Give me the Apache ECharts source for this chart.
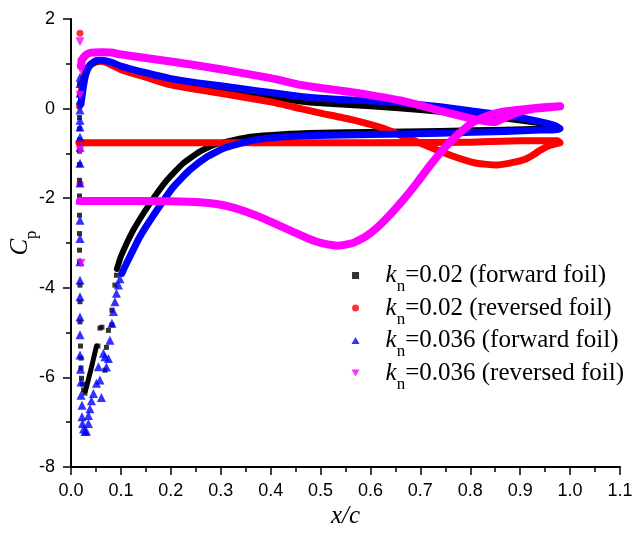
<!DOCTYPE html>
<html><head><meta charset="utf-8">
<script src="https://cdn.jsdelivr.net/npm/echarts@6/dist/echarts.min.js"></script>
<style>html,body{margin:0;padding:0;background:#fff}#c{width:636px;height:538px}</style>
</head><body><div id="c"></div>
<script>
// ---- data (x/c, Cp) ----
const seriesNames = ['kn=0.02 (forward foil)', 'kn=0.02 (reversed foil)', 'kn=0.036 (forward foil)', 'kn=0.036 (reversed foil)'];
const xTickDigits = 1;

// kn=0.02 forward foil (black squares)
const fwd02Surface = [[0.02,0.2],[0.026,0.6],[0.032,0.85],[0.04,0.97],[0.05,1.03],[0.06,1.05],[0.08,1.0],[0.1,0.88],[0.15,0.7],[0.2,0.56],[0.25,0.46],[0.3,0.39],[0.35,0.32],[0.4,0.25],[0.46,0.16],[0.5,0.12],[0.6,0.05],[0.7,-0.03],[0.8,-0.14],[0.87,-0.22],[0.94,-0.33],[0.98,-0.42],[0.94,-0.45],[0.87,-0.47],[0.74,-0.5],[0.6,-0.52],[0.5,-0.54],[0.425,-0.57],[0.359,-0.63],[0.292,-0.79],[0.258,-0.96],[0.225,-1.22],[0.192,-1.6],[0.158,-2.12],[0.125,-2.71],[0.1,-3.3],[0.092,-3.58]];
const fwd02Arm = [[0.029,-6.3],[0.04,-5.82],[0.051,-5.3]];
const fwd02Points = [[0.017,0.55],[0.017,0.3],[0.017,0.05],[0.017,-0.2],[0.017,-0.45],[0.017,-0.7],[0.017,-0.95],[0.017,-1.25],[0.017,-1.6],[0.017,-1.95],[0.017,-2.38],[0.017,-2.79],[0.017,-3.16],[0.017,-3.42],[0.018,-3.94],[0.018,-4.31],[0.018,-4.76],[0.019,-5.3],[0.02,-5.57],[0.02,-5.79],[0.021,-6.02],[0.023,-6.15],[0.025,-6.28],[0.028,-6.35],[0.054,-5.3],[0.058,-4.9],[0.062,-4.88],[0.075,-4.95],[0.071,-5.33],[0.068,-5.84],[0.082,-4.83],[0.082,-4.5],[0.088,-3.94],[0.091,-3.72]];

// kn=0.02 reversed foil (red circles)
const rev02Surface = [[0.02,0.35],[0.025,0.65],[0.03,0.85],[0.04,1.0],[0.05,1.06],[0.06,1.06],[0.08,0.98],[0.1,0.87],[0.15,0.7],[0.2,0.53],[0.25,0.43],[0.3,0.34],[0.4,0.15],[0.46,0.0],[0.5,-0.1],[0.56,-0.24],[0.626,-0.44],[0.693,-0.74],[0.76,-1.04],[0.813,-1.22],[0.853,-1.26],[0.886,-1.2],[0.91,-1.13],[0.925,-1.04],[0.94,-0.93],[0.955,-0.84],[0.97,-0.79],[0.98,-0.76],[0.975,-0.72],[0.95,-0.72],[0.9,-0.72],[0.8,-0.75],[0.6,-0.76],[0.4,-0.76],[0.2,-0.76],[0.05,-0.76],[0.016,-0.76]];
const rev02Points = [[0.018,1.68],[0.02,1.08],[0.017,0.05],[0.018,-1.67]];

// kn=0.036 forward foil (blue triangles)
const fwd036Surface = [[0.02,0.1],[0.025,0.5],[0.03,0.78],[0.038,0.97],[0.05,1.07],[0.06,1.08],[0.08,1.04],[0.1,0.95],[0.15,0.8],[0.2,0.67],[0.25,0.58],[0.3,0.51],[0.35,0.43],[0.4,0.36],[0.46,0.27],[0.5,0.23],[0.6,0.17],[0.66,0.13],[0.74,0.04],[0.8,-0.05],[0.87,-0.15],[0.94,-0.29],[0.97,-0.38],[0.98,-0.45],[0.97,-0.47],[0.94,-0.48],[0.87,-0.51],[0.74,-0.55],[0.6,-0.58],[0.492,-0.6],[0.425,-0.63],[0.359,-0.72],[0.305,-0.89],[0.272,-1.08],[0.238,-1.37],[0.205,-1.75],[0.172,-2.27],[0.138,-2.86],[0.108,-3.53],[0.102,-3.68]];
const fwd036Points = [[0.018,0.7],[0.018,0.56],[0.018,0.35],[0.018,0.19],[0.018,-0.03],[0.018,-0.26],[0.018,-0.41],[0.018,-0.64],[0.018,-0.86],[0.018,-1.22],[0.018,-1.66],[0.018,-2.04],[0.018,-2.49],[0.018,-2.9],[0.018,-3.42],[0.018,-3.83],[0.018,-4.2],[0.018,-4.65],[0.018,-5.05],[0.018,-5.5],[0.019,-5.82],[0.02,-6.1],[0.02,-6.4],[0.022,-6.62],[0.022,-6.88],[0.023,-7.03],[0.025,-7.15],[0.028,-7.21],[0.031,-7.2],[0.035,-7.03],[0.035,-6.85],[0.038,-6.7],[0.041,-6.52],[0.045,-6.36],[0.051,-6.13],[0.055,-5.76],[0.058,-6.06],[0.061,-6.45],[0.065,-5.46],[0.068,-5.54],[0.071,-5.77],[0.075,-5.58],[0.078,-5.17],[0.082,-4.79],[0.085,-4.53],[0.088,-4.31],[0.091,-4.12],[0.095,-3.94],[0.098,-3.8]];

// kn=0.036 reversed foil (magenta inverted triangles)
const rev036Surface = [[0.02,0.95],[0.022,1.08],[0.03,1.2],[0.04,1.25],[0.06,1.26],[0.08,1.25],[0.1,1.21],[0.15,1.13],[0.2,1.05],[0.3,0.88],[0.4,0.68],[0.46,0.53],[0.5,0.46],[0.56,0.37],[0.6,0.3],[0.66,0.18],[0.7,0.07],[0.74,-0.05],[0.78,-0.16],[0.82,-0.26],[0.85,-0.3],[0.87,-0.2],[0.9,-0.07],[0.93,0.0],[0.96,0.03],[0.98,0.05],[0.96,0.04],[0.927,0.01],[0.873,-0.06],[0.84,-0.14],[0.806,-0.3],[0.773,-0.6],[0.745,-0.92],[0.72,-1.26],[0.695,-1.63],[0.67,-1.98],[0.645,-2.3],[0.615,-2.64],[0.59,-2.86],[0.565,-3.0],[0.535,-3.06],[0.505,-3.01],[0.475,-2.9],[0.445,-2.75],[0.415,-2.6],[0.385,-2.45],[0.355,-2.32],[0.325,-2.21],[0.292,-2.13],[0.258,-2.09],[0.2,-2.07],[0.1,-2.06],[0.018,-2.06]];
const rev036Points = [[0.018,1.49],[0.02,0.86],[0.018,0.3],[0.018,-0.93],[0.02,-3.45]];

// ---- chart ----
const SERIF = 'Liberation Serif';
const SANS = 'Liberation Sans';
const colors = ['#000000', '#ff0000', '#0000ff', '#ff00ff'];

function band(name, data, color, width, z) {
  return { type: 'line', name, data, z, symbol: 'none', showSymbol: false, smooth: 0.15,
    silent: true, animation: false, emphasis: { disabled: true },
    lineStyle: { color, width, cap: 'round', join: 'round' }, itemStyle: { color } };
}
function pts(name, data, color, symbol, size, rotate, z) {
  return { type: 'scatter', name, data, z, symbol, symbolSize: size, symbolRotate: rotate,
    silent: true, animation: false, emphasis: { disabled: true }, itemStyle: { color } };
}

const chart = echarts.init(document.getElementById('c'), null, { renderer: 'canvas' });
chart.setOption({
  backgroundColor: '#ffffff',
  animation: false,
  grid: { left: 71, right: 16, top: 19, bottom: 71, containLabel: false, outerBoundsMode: 'none' },
  xAxis: {
    type: 'value', min: 0, max: 1.1, interval: 0.1,
    name: '{x|x/c}', nameLocation: 'middle', nameGap: 37, nameMoveOverlap: false,
    nameTextStyle: { rich: { x: { fontFamily: SERIF, fontStyle: 'italic', fontSize: 25, color: '#000' } } },
    axisLine: { show: true, onZero: false, lineStyle: { color: '#000', width: 2 } },
    axisTick: { show: true, inside: false, length: 8, lineStyle: { color: '#000', width: 1.5 } },
    minorTick: { show: true, splitNumber: 2, length: 5, lineStyle: { color: '#000', width: 1.5 } },
    splitLine: { show: false },
    axisLabel: { margin: 15, fontFamily: SANS, fontSize: 18, color: '#000',
      formatter: v => v.toFixed(xTickDigits), hideOverlap: false }
  },
  yAxis: {
    type: 'value', min: -8, max: 2, interval: 2,
    name: '{c|C}{p|p}', nameLocation: 'middle', nameGap: 31, nameRotate: 90, nameMoveOverlap: false,
    nameTextStyle: { rich: {
      c: { fontFamily: SERIF, fontStyle: 'italic', fontSize: 25, color: '#000' },
      p: { fontFamily: SERIF, fontSize: 17, color: '#000', padding: [23, 0, 0, 0] }
    } },
    axisLine: { show: true, onZero: false, lineStyle: { color: '#000', width: 2 } },
    axisTick: { show: true, inside: false, length: 8, lineStyle: { color: '#000', width: 1.5 } },
    minorTick: { show: true, splitNumber: 2, length: 5, lineStyle: { color: '#000', width: 1.5 } },
    splitLine: { show: false },
    axisLabel: { margin: 16, fontFamily: SANS, fontSize: 18, color: '#000', hideOverlap: false }
  },
  legend: {
    orient: 'vertical', left: 351.5, top: 263, padding: 0,
    itemWidth: 50, itemHeight: 7, itemGap: 0, selectedMode: false, symbolKeepAspect: true,
    data: [
      { name: seriesNames[0], icon: 'path://M0,0L10,0L10,10L0,10Z', itemStyle: { color: colors[0] } },
      { name: seriesNames[1], icon: 'circle', itemStyle: { color: colors[1] } },
      { name: seriesNames[2], icon: 'path://M5,0L10,8.66L0,8.66Z', itemStyle: { color: colors[2] } },
      { name: seriesNames[3], icon: 'path://M0,0L10,0L5,8.66Z', itemStyle: { color: colors[3] } }
    ],
    formatter: n => '{k|k}{n|n}{t|' + n.replace('kn', '') + '}',
    textStyle: { rich: {
      k: { fontFamily: SERIF, fontStyle: 'italic', fontSize: 25, color: '#000' },
      n: { fontFamily: SERIF, fontSize: 17, color: '#000', padding: [23, 0, 0, 0] },
      t: { fontFamily: SERIF, fontSize: 25, color: '#000' }
    } }
  },
  series: [
    pts(seriesNames[0], fwd02Points, colors[0], 'rect', 5, 0, 2),
    pts(seriesNames[1], rev02Points, colors[1], 'circle', 7, 0, 3),
    pts(seriesNames[2], fwd036Points, colors[2], 'triangle', 9, 0, 4),
    pts(seriesNames[3], rev036Points, colors[3], 'triangle', 9, 180, 5),
    band(seriesNames[0], fwd02Surface, colors[0], 6, 2),
    band(seriesNames[0], fwd02Arm, colors[0], 5, 2),
    band(seriesNames[1], rev02Surface, colors[1], 7, 3),
    band(seriesNames[2], fwd036Surface, colors[2], 7, 4),
    band(seriesNames[3], rev036Surface, colors[3], 8, 5)
  ]
});
</script></body></html>
